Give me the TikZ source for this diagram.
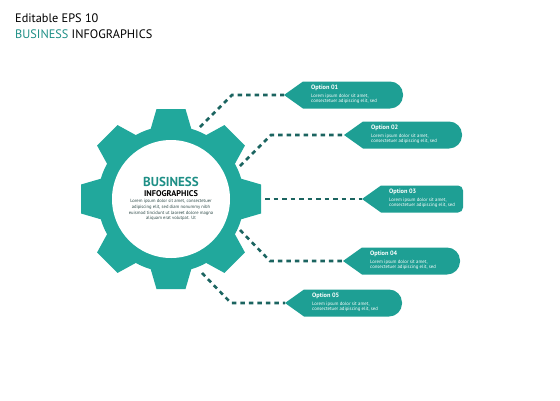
\documentclass[tikz,border=0pt]{standalone}
\usepackage{fontspec}
\setmainfont{PT Sans}
\definecolor{gearteal}{HTML}{21A89C}
\definecolor{boxteal}{HTML}{1E9F94}
\definecolor{dashteal}{HTML}{1B6460}
\definecolor{titleteal}{HTML}{1E8F86}
\definecolor{bodygray}{HTML}{2E4A48}
\tikzset{
  gearfill/.style={fill=gearteal},
  boxfill/.style={fill=boxteal},
  conn/.style={draw=dashteal, line width=2.6pt, dash pattern=on 4.5pt off 4pt},
  opttitle/.style={text=white, font=\fontsize{6.3}{7}\selectfont\bfseries, inner sep=0pt},
  optbody/.style={text=white, font=\fontsize{4.8}{5.4}\selectfont, inner sep=0pt, align=left},
}
\newcommand\optbox[6]{%
  \coordinate (#1) at (#2,#3);
  \fill[boxfill] (#1) -- (#2+19,#3-13.5) [rounded corners=#5pt] -- (#4,#3-13.5) -- (#4,#3+13.5) [sharp corners] -- (#2+19,#3+13.5) -- cycle;
  \node[opttitle, anchor=base west] (#1t) at (#2+27,#3-6) {Option #6};
  \node[optbody, anchor=north west] (#1b) at (#2+27,#3-1.5) {Lorem ipsum dolor sit amet,\\consectetuer adipiscing elit, sed};
}
\begin{document}
\begin{tikzpicture}[x=1pt,y=-1pt]
\useasboundingbox (0,0) rectangle (560,400);
% header
\node[anchor=base west, inner sep=0pt, font=\fontsize{12.3}{14}\selectfont] (hd1) at (15,22) {Editable EPS 10};
\node[anchor=base west, inner sep=0pt, font=\fontsize{12.3}{14}\selectfont] (hd2) at (15,38) {\textcolor{titleteal}{BUSINESS} INFOGRAPHICS};
% gear
\coordinate (gc) at (171,199);
\begin{scope}[shift={(gc)}]
  \fill[gearfill] (0,0) circle[radius=73pt];
  \foreach \a in {0,45,...,315}{
    \fill[gearfill, rotate=\a] (66pt,-21.5pt) -- (90pt,-14.5pt) -- (90pt,14.5pt) -- (66pt,21.5pt) -- cycle;
  }
  \fill[white] (0,0) circle[radius=59pt];
\end{scope}
\node[anchor=base, inner sep=0pt, text=titleteal, font=\fontsize{13}{14}\selectfont\bfseries] (gt1) at (171,186) {BUSINESS};
\node[anchor=base, inner sep=0pt, font=\fontsize{8.3}{9}\selectfont\bfseries] (gt2) at (171,196) {INFOGRAPHICS};
\node[anchor=north, inner sep=0pt, text=bodygray, align=center, font=\fontsize{4.6}{5.6}\selectfont] (gt3) at (171,199.5) {Lorem ipsum dolor sit amet, consectetuer\\adipiscing elit, sed diam nonummy nibh\\euismod tincidunt ut laoreet dolore magna\\aliquam erat volutpat. Ut};
% option boxes
\optbox{o1}{284}{95}{403}{13}{01}
\optbox{o2}{344}{135}{462}{13}{02}
\optbox{o3}{362}{199}{463}{5}{03}
\optbox{o4}{343}{261}{460}{13}{04}
\optbox{o5}{285}{303}{402}{13}{05}
% connector points
\coordinate (s1) at (200,127); \coordinate (k1) at (232,95);
\coordinate (s2) at (240,166); \coordinate (k2) at (271,135);
\coordinate (s3) at (265,199);
\coordinate (s4) at (240,230); \coordinate (k4) at (270,261);
\coordinate (s5) at (202,273); \coordinate (k5) at (231,303);
\draw[conn] (s1) -- (k1) -- (o1);
\draw[conn] (s2) -- (k2) -- (o2);
\draw[conn] (s3) -- (o3);
\draw[conn] (s4) -- (k4) -- (o4);
\draw[conn] (s5) -- (k5) -- (o5);
\end{tikzpicture}
\end{document}
